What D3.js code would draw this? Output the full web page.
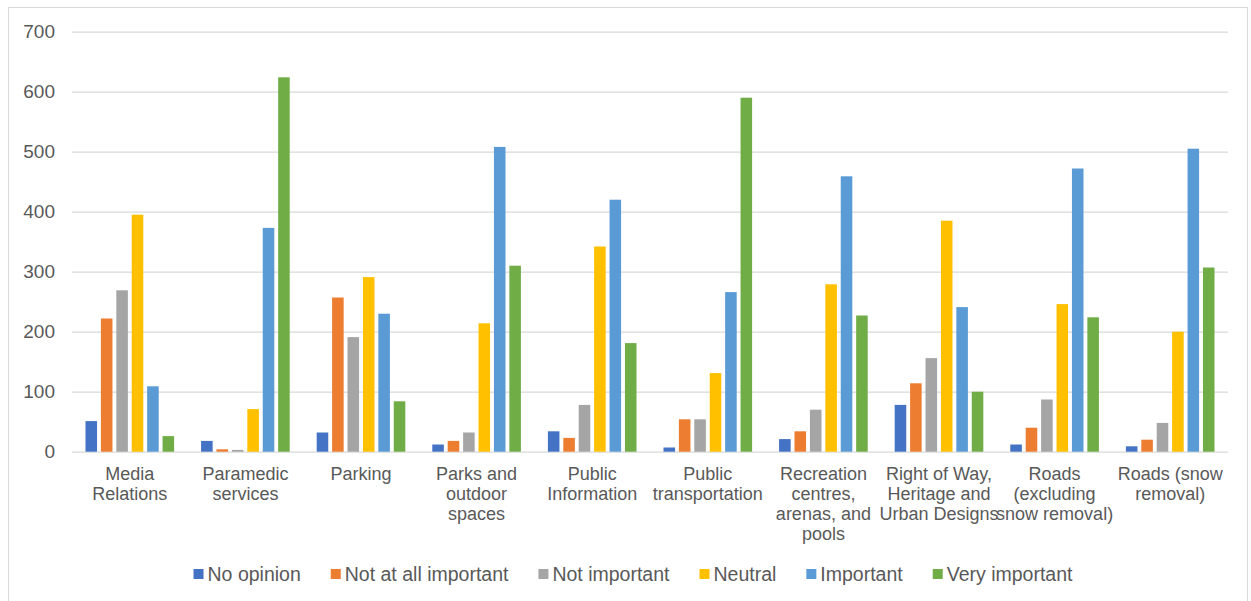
<!DOCTYPE html>
<html>
<head>
<meta charset="utf-8">
<script src="https://cdn.jsdelivr.net/npm/d3@7"></script>
<style>
  html, body { margin: 0; padding: 0; background: #fff; }
  svg { display: block; font-family: "Liberation Sans", Arial, sans-serif; }
</style>
</head>
<body>
<svg id="chart" width="1251" height="601"></svg>
<script>
// Service areas (line breaks mark how each label wraps under the axis)
const categories = [
  "Media\nRelations",
  "Paramedic\nservices",
  "Parking",
  "Parks and\noutdoor\nspaces",
  "Public\nInformation",
  "Public\ntransportation",
  "Recreation\ncentres,\narenas, and\npools",
  "Right of Way,\nHeritage and\nUrban Designs",
  "Roads\n(excluding\nsnow removal)",
  "Roads (snow\nremoval)"
];

const seriesNames = ["No opinion", "Not at all important", "Not important", "Neutral", "Important", "Very important"];

const noOpinion      = [51, 18, 32, 12, 34, 7, 21, 78, 12, 9];
const notAtAll       = [222, 4, 257, 18, 23, 54, 34, 114, 40, 20];
const notImportant   = [269, 3, 191, 32, 78, 54, 70, 156, 87, 48];
const neutral        = [395, 71, 291, 214, 342, 131, 279, 385, 246, 200];
const important      = [109, 373, 230, 508, 420, 266, 459, 241, 472, 505];
const veryImportant  = [26, 624, 84, 310, 181, 590, 227, 100, 224, 307];

const yTicks = [0, 100, 200, 300, 400, 500, 600, 700];

const seriesColors = ["#4472C4", "#ED7D31", "#A5A5A5", "#FFC000", "#5B9BD5", "#70AD47"];

const seriesValues = [noOpinion, notAtAll, notImportant, neutral, important, veryImportant];

const svg = d3.select("#chart");
const textColor = "#595959";
const gridColor = "#d9d9d9";

// Outer chart frame
svg.append("rect")
  .attr("x", 8.5).attr("y", 7.5)
  .attr("width", 1239).attr("height", 600)
  .attr("fill", "#fff")
  .attr("stroke", gridColor)
  .attr("stroke-width", 1);

const plot = { left: 72, right: 1228, top: 31.7, bottom: 451.7 };

const x0 = d3.scaleBand()
  .domain(d3.range(categories.length))
  .range([plot.left, plot.right])
  .paddingInner(0.2)
  .paddingOuter(0.1);

const x1 = d3.scaleBand()
  .domain(d3.range(seriesNames.length))
  .range([0, x0.bandwidth()])
  .paddingInner(0.25)
  .paddingOuter(0.125);

const y = d3.scaleLinear()
  .domain([0, 700])
  .range([plot.bottom, plot.top]);

// Horizontal gridlines and value labels
const yAxis = d3.axisLeft(y)
  .tickValues(yTicks)
  .tickSize(-(plot.right - plot.left))
  .tickPadding(17)
  .tickFormat(d3.format("d"));

const yG = svg.append("g")
  .attr("transform", `translate(${plot.left},0)`)
  .call(yAxis);
yG.select(".domain").remove();
yG.selectAll(".tick line")
  .attr("stroke", gridColor)
  .attr("stroke-width", 1.3);
yG.selectAll(".tick text")
  .attr("fill", textColor)
  .style("font-size", "19px")
  .style("font-family", "'Liberation Sans', Arial, sans-serif");

// Bars
const groups = svg.append("g")
  .selectAll("g")
  .data(categories.map((c, i) => i))
  .join("g")
  .attr("transform", i => `translate(${x0(i)},0)`);

groups.selectAll("rect")
  .data(i => seriesValues.map((vals, s) => ({ s, v: vals[i] })))
  .join("rect")
  .attr("x", d => x1(d.s))
  .attr("width", x1.bandwidth())
  .attr("y", d => y(d.v))
  .attr("height", d => y(0) - y(d.v))
  .attr("fill", d => seriesColors[d.s]);

// Category labels, wrapped onto several lines
const xAxis = d3.axisBottom(x0).tickSize(0).tickFormat("");
const xG = svg.append("g")
  .attr("transform", `translate(0,${plot.bottom})`)
  .call(xAxis);
xG.select(".domain").remove();

xG.selectAll(".tick").each(function (i) {
  const lines = categories[i].split("\n");
  const t = d3.select(this).append("text")
    .attr("fill", textColor)
    .attr("text-anchor", "middle")
    .style("font-size", "18px");
  lines.forEach((line, k) => {
    t.append("tspan")
      .attr("x", 0)
      .attr("y", 28 + k * 20)
      .text(line);
  });
});

// Legend, centred below the plot
const legend = svg.append("g");
const items = legend.selectAll("g")
  .data(seriesNames)
  .join("g");
items.append("rect")
  .attr("width", 10).attr("height", 10)
  .attr("y", 569)
  .attr("fill", (d, i) => seriesColors[i]);
items.append("text")
  .attr("x", 14)
  .attr("y", 581)
  .attr("fill", textColor)
  .style("font-size", "19.5px")
  .text(d => d);

let offset = 0;
const gap = 30;
items.each(function () {
  const w = 14 + d3.select(this).select("text").node().getComputedTextLength();
  d3.select(this).attr("data-w", w);
});
const widths = [];
items.each(function () { widths.push(+d3.select(this).attr("data-w")); });
const total = d3.sum(widths) + gap * (widths.length - 1);
let start = 633 - total / 2;
items.attr("transform", (d, i) => {
  const x = start + offset;
  offset += widths[i] + gap;
  return `translate(${x},0)`;
});
</script>
</body>
</html>
